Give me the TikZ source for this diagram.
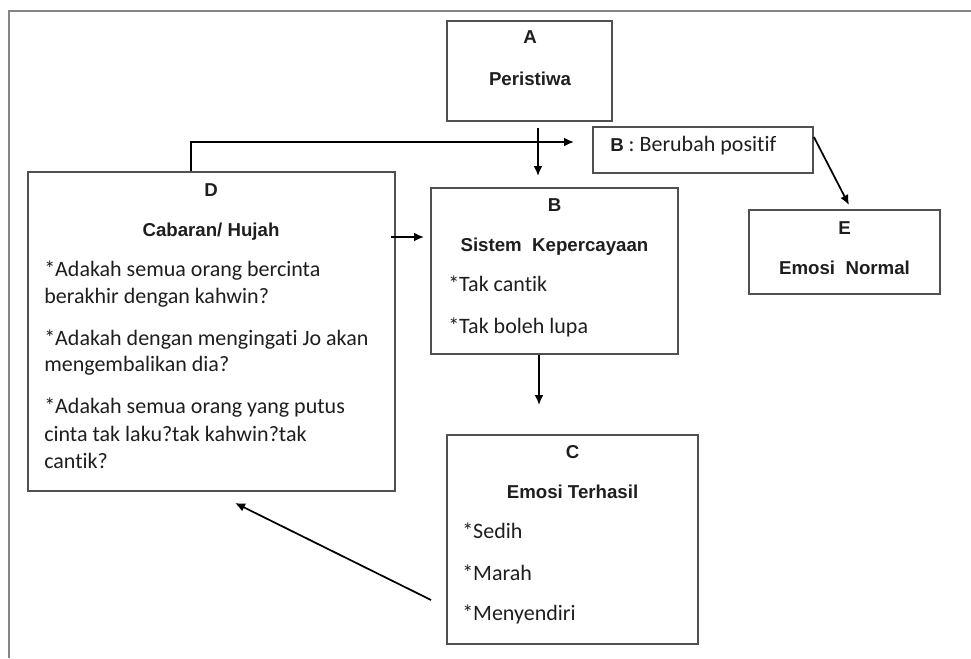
\documentclass[tikz,border=0pt]{standalone}
\usepackage{fontspec}
\setmainfont{Carlito}[Ligatures=NoCommon]
\newfontfamily\headfont{Liberation Sans}
\usetikzlibrary{arrows.meta,fit}
\definecolor{boxline}{HTML}{505050}
\definecolor{frameline}{HTML}{858585}
\definecolor{inktext}{HTML}{1E1E1E}

\begin{document}
\begin{tikzpicture}[x=0.75pt,y=-0.75pt]
\tikzstyle{every node}=[inner sep=0pt,text=inktext]
\tikzstyle{box}=[draw=boxline,line width=1.4pt]
\tikzstyle{head}=[font=\headfont\bfseries\fontsize{14}{16}\selectfont,anchor=mid]
\tikzstyle{item}=[font=\fontsize{16.5}{20}\selectfont,anchor=mid west]
\tikzstyle{arr}=[-{Latex[length=7.5pt,width=6.5pt]},line width=1.3pt]
\useasboundingbox (0,0) rectangle (971,658);
\draw[frameline,line width=1.8pt] (9,658)--(9,11)--(971,11);

% boxes
\node[box,fit={(447,21) (612,121)}] (A) {};
\node[box,fit={(593,127) (813,173)}] (P) {};
\node[box,fit={(28,172) (395,491)}] (D) {};
\node[box,fit={(431,188) (678,354)}] (B) {};
\node[box,fit={(749,210) (940,294)}] (E) {};
\node[box,fit={(447,435) (698,644)}] (C) {};

% texts
\node[head] (A-id) at (530,40) {A};
\node[head] (A-name) at (530,82) {Peristiwa};
\node[item] (P-text) at (610,148) {{\headfont\bfseries\fontsize{14}{16}\selectfont B} : Berubah positif};
\node[head] (D-id) at (211,193) {D};
\node[head] (D-name) at (211,233) {Cabaran/ Hujah};
\node[item] (D-q1a) at (44,273) {*Adakah semua orang bercinta};
\node[item] (D-q1b) at (44,300) {berakhir dengan kahwin?};
\node[item] (D-q2a) at (44,342) {*Adakah dengan mengingati Jo akan};
\node[item] (D-q2b) at (44,368) {mengembalikan dia?};
\node[item] (D-q3a) at (44,410) {*Adakah semua orang yang putus};
\node[item] (D-q3b) at (44,438) {cinta tak laku?tak kahwin?tak};
\node[item] (D-q3c) at (44,465) {cantik?};
\node[head] (B-id) at (554.5,208) {B};
\node[head] (B-name) at (554.5,248) {Sistem\ \ Kepercayaan};
\node[item] (B-b1) at (448,288) {*Tak cantik};
\node[item] (B-b2) at (448,330) {*Tak boleh lupa};
\node[head] (E-id) at (844.5,231) {E};
\node[head] (E-name) at (844.5,271) {Emosi\ \ Normal};
\node[head] (C-id) at (572.5,455) {C};
\node[head] (C-name) at (572.5,495) {Emosi Terhasil};
\node[item] (C-e1) at (462,535) {*Sedih};
\node[item] (C-e2) at (462,577) {*Marah};
\node[item] (C-e3) at (462,617) {*Menyendiri};

% connectors
\draw[arr] ([shift={(8.5,6)}]A.south)--([shift={(-16.5,-11)}]B.north);
\draw[arr] ([shift={(-20.5,0)}]D.north) |- ([shift={(-18,-8)}]P.west);
\draw[arr] ([shift={(0,11)}]P.north east)--([shift={(4.5,-4)}]E.north);
\draw[arr] ([shift={(-5,-94.5)}]D.east)--([shift={(-6,-34)}]B.west);
\draw[arr] ([shift={(-15.5,0)}]B.south)--([shift={(-33.5,-29)}]C.north);
\draw[arr] ([shift={(-15,60.5)}]C.west)--([shift={(23.5,11)}]D.south);

\end{tikzpicture}
\end{document}
